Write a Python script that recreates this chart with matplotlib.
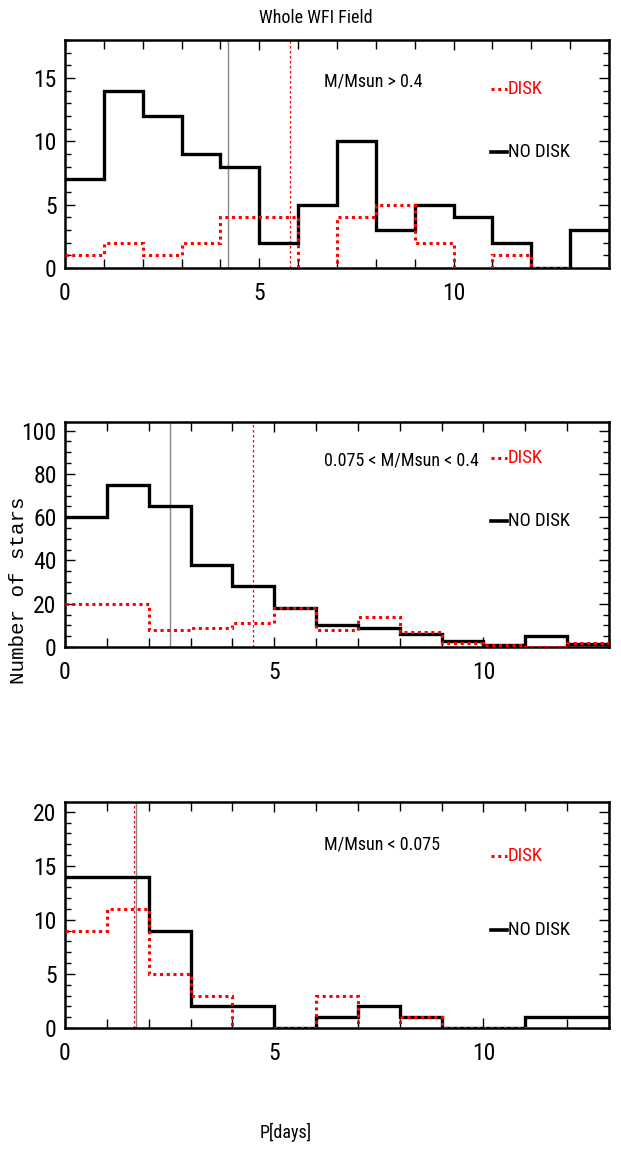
import matplotlib
matplotlib.use("Agg")
import matplotlib.pyplot as plt
from matplotlib.ticker import MultipleLocator
from matplotlib import font_manager

# ---------------- data ----------------
edges_top = list(range(0, 15))
nodisk_top = [7, 14, 12, 9, 8, 2, 5, 10, 3, 5, 4, 2, 0, 3]
disk_top = [1, 2, 1, 2, 4, 4, 0, 4, 5, 2, 0, 1, 0, 0]
med_nodisk_top = 4.2
med_disk_top = 5.8

edges_mid = list(range(0, 14))
nodisk_mid = [60, 75, 65, 38, 28, 18, 10, 9, 6, 3, 1, 5, 1.5]
disk_mid = [20, 20, 8, 9, 11, 18, 8, 14, 7, 2, 1, 0, 2]
med_nodisk_mid = 2.5
med_disk_mid = 4.5

edges_bot = list(range(0, 14))
nodisk_bot = [14, 14, 9, 2, 2, 0, 1, 2, 1, 0, 0, 1, 1]
disk_bot = [9, 11, 5, 3, 0, 0, 3, 0, 1, 0, 0, 0, 0]
med_nodisk_bot = 1.69
med_disk_bot = 1.66

labels = ["M/Msun > 0.4", "0.075 < M/Msun < 0.4", "M/Msun < 0.075"]
xlims = [14, 13, 13]
ylims = [18, 104, 20.9]
ymajor = [5, 20, 5]
yminor = [1, 5, 1]

title = "Whole WFI Field"
xlabel = "P[days]"
ylabel = "Number of stars"
legend_disk = "DISK"
legend_nodisk = "NO DISK"

names = {f.name for f in font_manager.fontManager.ttflist}
NARROW = [n for n in ["Roboto Condensed", "Liberation Sans Narrow",
                      "Open Sans Condensed", "Liberation Sans"] if n in names]
NARROW.append("DejaVu Sans")

fig = plt.figure(figsize=(6.21, 11.51), dpi=100)

W, H = 621.0, 1151.0
left = 65 / W
width = (609 - 65) / W
panel_pix = [(40, 268), (422, 647), (802, 1028)]
# (text_x, text_y, disk_y, nodisk_y) in axes fraction
txtpos = [(0.477, 0.816, 0.785, 0.509),
          (0.477, 0.831, 0.840, 0.560),
          (0.477, 0.810, 0.761, 0.434)]

panels = [
    (edges_top, nodisk_top, disk_top, med_nodisk_top, med_disk_top),
    (edges_mid, nodisk_mid, disk_mid, med_nodisk_mid, med_disk_mid),
    (edges_bot, nodisk_bot, disk_bot, med_nodisk_bot, med_disk_bot),
]

FS = 13
for i, (edges, nd, d, mnd, md) in enumerate(panels):
    top_px, bot_px = panel_pix[i]
    ax = fig.add_axes([left, 1 - bot_px / H, width, (bot_px - top_px) / H])
    ax.stairs(nd, edges, baseline=None, color="black", lw=2.4, zorder=3)
    ax.stairs(d, edges, baseline=None, color="red", lw=2.2,
              linestyle=(0, (1, 1.2)), zorder=4)
    ax.axvline(mnd, color="#888888", lw=1.0, zorder=2)
    ax.axvline(md, color="red", lw=0.9, linestyle=(0, (2, 2)), zorder=2)
    ax.set_xlim(0, xlims[i])
    ax.set_ylim(0, ylims[i])
    ax.xaxis.set_major_locator(MultipleLocator(5))
    ax.xaxis.set_minor_locator(MultipleLocator(1))
    ax.yaxis.set_major_locator(MultipleLocator(ymajor[i]))
    ax.yaxis.set_minor_locator(MultipleLocator(yminor[i]))
    ax.tick_params(which="both", direction="in", top=True, right=True,
                   width=1.0, labelsize=17)
    ax.tick_params(axis="x", which="major", length=7.5, pad=10)
    ax.tick_params(axis="x", which="minor", length=6.5)
    ax.tick_params(axis="y", which="major", length=7.5, pad=6)
    ax.tick_params(axis="y", which="minor", length=4)
    for lab in ax.get_xticklabels() + ax.get_yticklabels():
        lab.set_family(NARROW)
    for sp in ax.spines.values():
        sp.set_linewidth(1.8)

    tx, ty, dy, ndy = txtpos[i]
    ax.text(tx, ty, labels[i], transform=ax.transAxes, fontsize=FS,
            family=NARROW, ha="left", va="center")
    ax.plot([0.783, 0.812], [dy, dy], transform=ax.transAxes, color="red",
            lw=2.2, linestyle=(0, (1, 1.2)), clip_on=False)
    ax.text(0.814, dy, legend_disk, transform=ax.transAxes, fontsize=FS + 0.5,
            family=NARROW, color="red", ha="left", va="center")
    ax.plot([0.783, 0.812], [ndy, ndy], transform=ax.transAxes,
            color="black", lw=2.6, clip_on=False)
    ax.text(0.814, ndy, legend_nodisk, transform=ax.transAxes,
            fontsize=FS + 0.5, family=NARROW, color="black",
            ha="left", va="center")

fig.text(316 / W, 1 - 18 / H, title, fontsize=FS, family=NARROW,
         ha="center", va="center")
fig.text(286 / W, 1 - 1132 / H, xlabel, fontsize=FS, family=NARROW,
         ha="center", va="center")
fig.text(19 / W, 1 - 590 / H, ylabel, fontsize=15, family="Liberation Mono",
         rotation=90, ha="center", va="center")

fig.savefig("out.png", dpi=100)
